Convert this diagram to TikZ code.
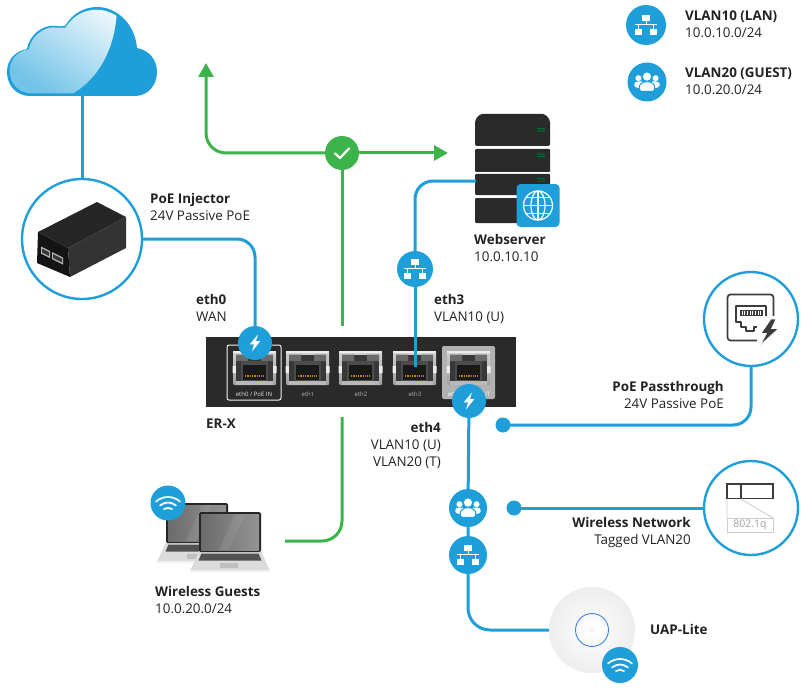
\documentclass[tikz,border=0pt]{standalone}
\usepackage{fontspec}
\setmainfont{Open Sans}
\usetikzlibrary{arrows.meta,calc}
\definecolor{ublue}{HTML}{1E9FDA}
\definecolor{ugreen}{HTML}{3CB44B}
\definecolor{txt}{HTML}{222222}
\definecolor{rdark}{HTML}{2B2A2B}
\definecolor{slab}{HTML}{2A2A2A}
\definecolor{iconink}{HTML}{3C3C3C}
\pgfdeclarelayer{back}
\pgfdeclarelayer{wires}
\pgfsetlayers{back,wires,main}
\tikzset{
  wire/.style={draw=ublue,line width=3pt},
  gwire/.style={draw=ugreen,line width=3pt},
  badge/.style={circle,fill=ublue,minimum size=36pt,inner sep=0pt},
  ring/.style={circle,draw=ublue,line width=2.4pt,fill=white,inner sep=0pt},
  dot/.style={circle,fill=ublue,minimum size=15pt,inner sep=0pt},
  lbl/.style={inner sep=0pt,text=txt,font=\fontsize{13.4}{17}\selectfont},
  plbl/.style={inner sep=0pt,font=\fontsize{6}{7}\selectfont,text=#1},
  pics/neticon/.style={code={
    \fill[white] (-3.7,-10.2) rectangle (3.9,-4.2);
    \fill[white] (-11.2,4) rectangle (-3.8,10);
    \fill[white] (3.9,4) rectangle (11.4,10);
    \draw[white,line width=1pt] (0,-4.2) -- (0,-.5) (-7.5,4) -- (-7.5,-.5) -- (7.6,-.5) -- (7.6,4);
    \fill[white] (-11.2,-1) rectangle (11.4,0);
  }},
  pics/peopleicon/.style={code={
    \fill[white] (-8.6,-3.8) circle (3pt) (8.6,-3.8) circle (3pt);
    \fill[white] (-5,7) -- (-10.2,5.6) .. controls (-12,5) and (-12.8,4) .. (-12.8,2.5) .. controls (-12.8,.5) and (-11,-.5) .. (-8.6,-.5) -- (-5,-.5) -- cycle;
    \fill[white] (5,7) -- (10.2,5.6) .. controls (12,5) and (12.8,4) .. (12.8,2.5) .. controls (12.8,.5) and (11,-.5) .. (8.6,-.5) -- (5,-.5) -- cycle;
    \fill[white,draw=ublue,line width=.9pt] (0,-5.4) circle (4.7pt);
    \fill[white,draw=ublue,line width=1pt] (-5.5,9.3) .. controls (-7.2,9.3) and (-7.8,8) .. (-7.8,6) .. controls (-7.8,2) and (-5,-.3) .. (0,-.3) .. controls (5,-.3) and (7.8,2) .. (7.8,6) .. controls (7.8,8) and (7.2,9.3) .. (5.5,9.3) -- cycle;
  }},
  pics/wifiicon/.style={code={
    \draw[white,line width=1.7pt,line cap=round]
      (-12,-1.5) .. controls (-5,-7.5) and (5,-7.5) .. (12,-1.5)
      (-8,2.5) .. controls (-3,-1.5) and (3,-1.5) .. (8,2.5)
      (-4,6) .. controls (-1.5,4.5) and (1.5,4.5) .. (4,6);
  }},
  pics/bolticon/.style={code={
    \fill[white] (3,-8.5) -- (-5.2,1.3) -- (-1,1.3) -- (-3,8.5) -- (5.2,-1.8) -- (.9,-1.8) -- cycle;
  }},
  pics/checkicon/.style={code={
    \draw[white,line width=2.2pt,line cap=round,line join=round] (-7,.5) -- (-2,5) -- (7,-4.5);
  }},
  pics/port/.style={code={
    \shade[top color=gray!35,bottom color=gray!75,rounded corners=1pt] (0,0) rectangle (43,34);
    \fill[white!85!gray] (0,0) rectangle (43,2);
    \fill[white!85!gray] (-.5,15) rectangle (3,22) (40,15) rectangle (43.5,22);
    \fill[black!78] (3,3.5) rectangle (40,30);
    \fill[black!58] (3,3.5) rectangle (15,10) (28,3.5) rectangle (40,10);
    \fill[black!70] (8,10) rectangle (35,30);
    \fill[black!90] (10,14) rectangle (33,29);
    \draw[draw=orange!60!yellow!75!black,line width=1.4pt,dash pattern=on 1.3pt off 1pt] (12,25) -- (31,25);
    \fill[gray!55] (3,30) rectangle (40,34);
  }},
  pics/laptop/.style={code={
    \fill[gray!28] (0,39) -- (62,39) -- (71,59) -- (-9,59) -- cycle;
    \fill[gray!12] (-9,58) rectangle (71,60);
    \fill[black!68] (2.5,41.5) -- (59.5,41.5) -- (62.5,48.5) -- (-.5,48.5) -- cycle;
    \fill[gray!50] (21,51) rectangle (39,56);
    \fill[black!85,rounded corners=1.5pt] (0,0) rectangle (62,40);
    \shade[left color=black!58,right color=black!42] (2,2) rectangle (60,38);
    \fill[white,opacity=.08] (36,2) -- (46,2) -- (30,38) -- (20,38) -- cycle;
  }},
}
\def\cloudpath{(30,96) .. controls (16,96) and (7,85) .. (7,72) .. controls (7,60) and (15,51) .. (27,49)
 .. controls (29,36) and (42,24) .. (56,26) .. controls (59,26.5) and (62,26.5) .. (65,26)
 .. controls (72,14) and (84,7) .. (97,7) .. controls (118,7) and (135,25) .. (137,48)
 .. controls (149,50) and (157,60) .. (157,72) .. controls (157,85) and (148,96) .. (135,96) -- cycle}
\begin{document}
\begin{tikzpicture}[x=1pt,y=-1pt]
\useasboundingbox (0,0) rectangle (806,690);

\begin{pgfonlayer}{back}
  \fill[white] (0,0) rectangle (806,690);
  % cloud
  \fill[ublue] \cloudpath;
  \begin{scope}
    \clip (117,0) .. controls (118,45) and (100,78) .. (72,94) -- (0,100) -- (0,0) -- cycle;
    \begin{scope}[shift={(82,52)},xscale=.965,yscale=.94,shift={(-82,-52)}]
      \shade[top color=ublue!4,bottom color=ublue!62,shading angle=-35] \cloudpath;
    \end{scope}
  \end{scope}
  \coordinate (cloudBase) at (82,96);

  % router
  \node[fill=rdark,minimum width=310pt,minimum height=70pt,inner sep=0pt] (router) at (361,372) {};
  \draw[white!90!gray,line width=1pt,rounded corners=2pt] (227,345) rectangle (281,400);
  \fill[gray!60,rounded corners=2pt] (442,346) rectangle (495,399);
  \pic at (233,351) {port};
  \pic at (286,351) {port};
  \pic at (339,351) {port};
  \pic at (393,351) {port};
  \pic at (447,351) {port};
  \node[plbl=white!80!gray] (t0) at (254,394) {eth0 / PoE IN};
  \node[plbl=gray!60] (t1) at (308,394.5) {eth1};
  \node[plbl=gray!60] (t2) at (361,394.5) {eth2};
  \node[plbl=gray!60] (t3) at (415,394.5) {eth3};
  \node[plbl=white] (t4) at (469,394) {eth4 / PoE OUT};

  % server
  \fill[slab,rounded corners=2pt] (480,114) -- (545,114) -- (550,120) -- (550,146) -- (475,146) -- (475,120) -- cycle;
  \fill[slab,rounded corners=1pt] (475,149) rectangle (550,172);
  \fill[slab,rounded corners=1pt] (475,174) rectangle (550,195);
  \fill[slab,rounded corners=1pt] (475,198) rectangle (550,223);
  \foreach \yy in {130,155.5,180} {
    \fill[green!45!teal!60!black] (537,\yy-2) rectangle (545,\yy-.8) (537,\yy+.5) rectangle (545,\yy+1.7);
  }
  \node[inner sep=0pt,minimum width=75pt,minimum height=109pt] (server) at (512.5,168.5) {};
  \coordinate (serverIn) at (476,181);
  \coordinate (port3) at (415,367);

  % laptops
  \pic at (166,503) {laptop};
  \pic at (199,512) {laptop};
  \coordinate (laptopOut) at (285,541);

  % access point
  \shade[inner color=white,outer color=gray!14] (592,630) circle (43pt);
  \node[circle,minimum size=86pt,inner sep=0pt] (uap) at (592,630) {};
  \node[circle,draw=ublue!70!blue!85,line width=.9pt,minimum size=33pt,inner sep=0pt] (uapring) at (592,630) {};
  \node[inner sep=0pt,text=gray!30,font=\fontsize{6}{7}\selectfont] (uaplogo) at (592,630) {U};
\end{pgfonlayer}

% injector
\node[ring,minimum size=120pt] (inj) at (82,239) {};
\fill[black!85] (38,232) -- (97,202) -- (126,217) -- (68,248) -- cycle;
\fill[black!80] (68,248) -- (126,217) -- (126,248) -- (70,277) -- cycle;
\fill[black!92] (38,232) -- (68,248) -- (70,277) -- (37,263) -- cycle;
\fill[gray!55] (41,246.5) -- (50,251) -- (50,258) -- (41,253.5) -- cycle;
\fill[gray!55] (52,252) -- (63,257.5) -- (63,264.5) -- (52,259) -- cycle;
\fill[black!78] (42,248.5) -- (49,252) -- (49,256) -- (42,252.5) -- cycle;
\fill[black!78] (53,254) -- (62,258.5) -- (62,262.5) -- (53,258) -- cycle;

% passthrough icon
\node[ring,minimum size=94pt] (ptIcon) at (751,319) {};
\draw[iconink,line width=1.7pt,rounded corners=3pt] (727.5,294.5) rectangle (773.5,340.5);
\draw[iconink,line width=1.7pt,line join=round] (736,306) -- (766,306) -- (766,322) -- (760,322) -- (760,327) -- (754,327) -- (754,331) -- (746,331) -- (746,327) -- (741,327) -- (741,322) -- (736,322) -- cycle;
\fill[iconink] (739.5,309.5) rectangle (763,316);
\foreach \xx in {741.5,744.2,...,762} {\fill[white] (\xx,310.5) rectangle (\xx+.9,315);}
\fill[white] (757,316) rectangle (780,346);
\fill[iconink,draw=white,line width=.6pt] (771,319) -- (761,333.5) -- (766.5,333.5) -- (760.5,345) -- (778.5,328.5) -- (771.5,328.5) -- (776,319) -- cycle;

% 802.1q icon
\node[ring,minimum size=94pt] (vlanIcon) at (751,508) {};
\draw[iconink,line width=1.2pt] (727,484) rectangle (773,498.5) (741,484) -- (741,498.5);
\draw[gray!40,line width=.8pt] (727,499) -- (727,518) (741,499) -- (773,518);
\draw[gray!40,line width=.8pt] (727,518) rectangle (773,532);
\node[inner sep=0pt,text=gray!75,font=\fontsize{10.5}{12}\selectfont] (tagtxt) at (750,525.2) {802.1q};

% badges
\node[badge,minimum size=34pt] (boltA) at (255,343) {}; \pic at (boltA) {bolticon};
\node[badge,minimum size=34pt] (boltB) at (469,401) {}; \pic at (boltB) {bolticon};
\node[badge] (netA) at (415,269) {}; \pic at (netA) {neticon};
\node[badge,minimum size=38pt] (people) at (468,508) {}; \pic at (people) {peopleicon};
\node[badge,minimum size=38pt] (netB) at (468,555) {}; \pic at (netB) {neticon};
\node[badge,minimum size=34pt,fill=ugreen] (check) at (342,153) {}; \pic at (check) {checkicon};
\node[badge,minimum size=35pt] (wifiL) at (168,503) {}; \pic at (wifiL) {wifiicon};
\node[badge] (wifiU) at (620,665) {}; \pic at (wifiU) {wifiicon};
\node[dot] (dotA) at (503,425) {};
\node[dot] (dotB) at (514,508) {};
\node[badge,minimum size=40pt] (legNet) at (646,25) {}; \pic at (legNet) {neticon};
\node[badge,minimum size=39pt] (legPeople) at (647,82) {}; \pic at (legPeople) {peopleicon};

% globe tile
\node[fill=ublue,rounded corners=4pt,minimum size=43pt,inner sep=0pt] (globe) at (538,205.5) {};
\begin{scope}[white,line width=1.2pt]
  \draw (538,205.5) circle (14.5pt);
  \draw (538,205.5) ellipse (7pt and 14.5pt);
  \draw (523.5,205.5) -- (552.5,205.5) (538,191) -- (538,220);
  \draw (526,197.5) -- (550,197.5) (526,213.5) -- (550,213.5);
\end{scope}

\coordinate (gUp) at (206,63);
\coordinate (gRight) at (448,153);
\coordinate (gDownA) at (342,326);
\coordinate (gDownB) at (342,417);

\begin{pgfonlayer}{wires}
  \draw[wire] (cloudBase) -- (inj.north);
  \draw[wire,rounded corners=18pt] (inj.east) -| (boltA.center);
  \draw[wire] (port3) -- (netA.center);
  \draw[wire,rounded corners=18pt] (netA.center) |- (serverIn);
  \draw[wire] (boltB.center) -- (people.center) -- (netB.center);
  \draw[wire,rounded corners=22pt] (netB.center) |- (uap.west);
  \draw[wire,rounded corners=18pt] (dotA.center) -| (ptIcon.south);
  \draw[wire] (dotB.center) -- (vlanIcon.west);
  \draw[gwire,rounded corners=20pt,-{Triangle[width=15pt,length=14pt]}] (check.center) -| (gUp);
  \draw[gwire,-{Triangle[width=15pt,length=14pt]}] (check.center) -- (gRight);
  \draw[gwire] (check.center) -- (gDownA);
  \draw[gwire,rounded corners=20pt] (gDownB) |- (laptopOut);
\end{pgfonlayer}

% labels
\node[lbl,anchor=west,align=left] (lInj) at (150,206.5) {\textbf{PoE Injector}\\24V Passive PoE};
\node[lbl,anchor=west,align=left] (lEth0) at (196,307.5) {\textbf{eth0}\\WAN};
\node[lbl,anchor=west] (lErx) at (206,424) {\textbf{ER-X}};
\node[lbl,anchor=west,align=left] (lEth3) at (434,308.5) {\textbf{eth3}\\VLAN10 (U)};
\node[lbl,anchor=east,align=right] (lEth4) at (441,445) {\textbf{eth4}\\VLAN10 (U)\\VLAN20 (T)};
\node[lbl,anchor=west,align=left] (lWeb) at (474,248.5) {\textbf{Webserver}\\10.0.10.10};
\node[lbl,anchor=east,align=right] (lPt) at (724,394.5) {\textbf{PoE Passthrough}\\24V Passive PoE};
\node[lbl,anchor=east,align=right] (lWn) at (691,532.5) {\textbf{Wireless Network}\\Tagged VLAN20};
\node[lbl,anchor=west] (lUap) at (650,629) {\textbf{UAP-Lite}};
\node[lbl,anchor=west,align=left] (lGuests) at (155,599.5) {\textbf{Wireless Guests}\\10.0.20.0/24};
\node[lbl,anchor=west,align=left] (lLeg1) at (685,24.5) {\textbf{VLAN10 (LAN)}\\10.0.10.0/24};
\node[lbl,anchor=west,align=left] (lLeg2) at (685,81.5) {\textbf{VLAN20 (GUEST)}\\10.0.20.0/24};
\end{tikzpicture}
\end{document}
